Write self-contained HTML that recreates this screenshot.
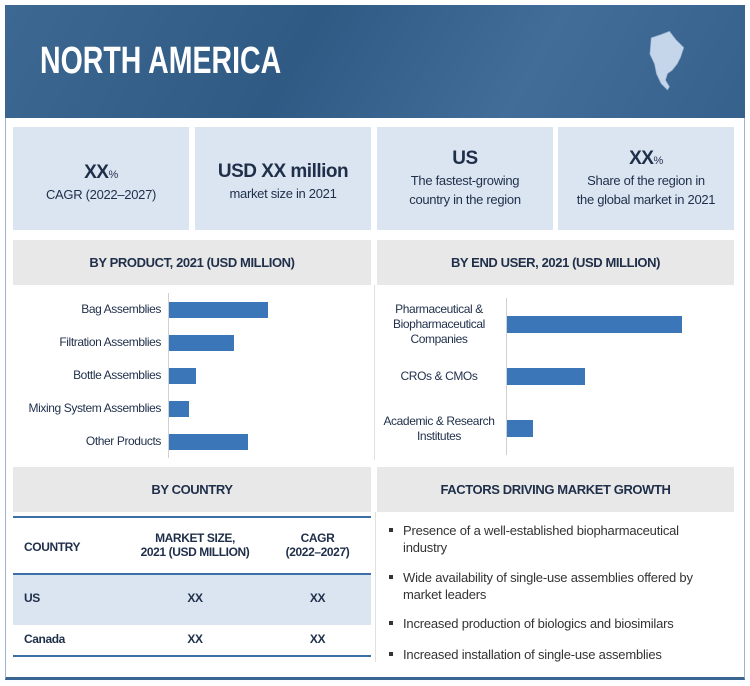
<!DOCTYPE html>
<html><head><meta charset="utf-8"><style>
body{margin:0;width:750px;height:686px;background:#fff;font-family:"Liberation Sans",sans-serif;color:#1f2f4a;position:relative;overflow:hidden}
.abs{position:absolute}
.card{position:absolute;top:127px;height:103px;width:176px;background:#dbe5f1;text-align:center;font-size:13px;line-height:19px;color:#1f2f4a;letter-spacing:-0.3px}
.big{font-size:19px;font-weight:bold;line-height:24px;letter-spacing:-0.5px}
.hdr{position:absolute;background:#e8e8e8;height:45px;text-align:center;line-height:45px;font-size:13px;font-weight:bold;color:#1f2f4a;letter-spacing:-0.4px}
.lbl{position:absolute;text-align:right;font-size:12px;line-height:15px;color:#1f2f4a;white-space:nowrap;letter-spacing:-0.4px}
.tb{position:absolute;font-size:12px;font-weight:bold;text-align:center;white-space:nowrap;letter-spacing:-0.4px}
.bul{position:absolute;left:390px;font-size:13px;line-height:17px;color:#333;width:315px;letter-spacing:-0.2px}
.bul:before{content:"";position:absolute;left:-1px;top:6px;width:4px;height:4px;background:#333}
.bul span{display:block;padding-left:13px}
</style></head><body>
<div class="abs" style="left:5px;top:5px;width:738px;height:671px;border:1px solid #9fb3cc;border-bottom:3px solid #3a6591"></div>
<div class="abs" style="left:5px;top:5px;width:740px;height:113px;background:linear-gradient(120deg,#3d6892 0%,#2f5a84 40%,#416d98 70%,#36618c 100%)"></div>
<div class="abs" style="left:40px;top:40px;font-size:38px;font-weight:bold;color:#fff;transform:scaleX(0.75);transform-origin:left top;white-space:nowrap">NORTH AMERICA</div>
<svg class="abs" style="left:640px;top:28px" width="55" height="75" viewBox="0 0 70 115"><path d="M10,15 L25,10 L38,5 L48,18 L60,30 L55,45 L50,55 L42,65 L35,70 L32,80 L38,90 L35,95 L25,85 L18,70 L15,55 L8,40 Z" fill="#c5d6ea" stroke="#8fa9c8"/></svg>
<div class="card" style="left:13px"><div style="margin-top:34px"><span class="big">XX</span><span style="font-size:11px">%</span></div>CAGR (2022–2027)</div>
<div class="card" style="left:195px"><div class="big" style="margin-top:33px">USD XX million</div>market size in 2021</div>
<div class="card" style="left:377px"><div class="big" style="margin-top:20px">US</div>The fastest-growing<br>country in the region</div>
<div class="card" style="left:558px"><div style="margin-top:20px"><span class="big">XX</span><span style="font-size:11px">%</span></div>Share of the region in<br>the global market in 2021</div>
<div class="hdr" style="left:13px;top:240px;width:358px">BY PRODUCT, 2021 (USD MILLION)</div>
<div class="hdr" style="left:377px;top:240px;width:357px">BY END USER, 2021 (USD MILLION)</div>
<div class="abs" style="left:374px;top:285px;width:1px;height:175px;background:#e0e0e0"></div>
<div id="charts"></div>
<div class="hdr" style="left:13px;top:467px;width:358px">BY COUNTRY</div>
<div class="hdr" style="left:377px;top:467px;width:357px">FACTORS DRIVING MARKET GROWTH</div>
<div class="abs" style="left:13px;top:516px;width:358px;height:2px;background:#3a6fa8"></div>
<div class="tb" style="left:24px;top:540px">COUNTRY</div>
<div class="tb" style="left:135px;top:531px;width:120px">MARKET SIZE,<br>2021 (USD MILLION)</div>
<div class="tb" style="left:270px;top:531px;width:95px">CAGR<br>(2022–2027)</div>
<div class="abs" style="left:13px;top:573px;width:358px;height:2px;background:#3a6fa8"></div>
<div class="abs" style="left:13px;top:575px;width:358px;height:50px;background:#dbe5f1"></div>
<div class="tb" style="left:24px;top:591px">US</div>
<div class="tb" style="left:135px;top:591px;width:120px">XX</div>
<div class="tb" style="left:270px;top:591px;width:95px">XX</div>
<div class="tb" style="left:24px;top:632px">Canada</div>
<div class="tb" style="left:135px;top:632px;width:120px">XX</div>
<div class="tb" style="left:270px;top:632px;width:95px">XX</div>
<div class="abs" style="left:13px;top:655px;width:358px;height:2px;background:#3a6fa8"></div>
<div class="abs" style="left:375px;top:512px;width:1px;height:150px;background:#e0e0e0"></div>
<div class="bul" style="top:522px"><span>Presence of a well-established biopharmaceutical industry</span></div>
<div class="bul" style="top:569px"><span>Wide availability of single-use assemblies offered by market leaders</span></div>
<div class="bul" style="top:615px"><span>Increased production of biologics and biosimilars</span></div>
<div class="bul" style="top:646px"><span>Increased installation of single-use assemblies</span></div>
<script>
const productCats=["Bag Assemblies","Filtration Assemblies","Bottle Assemblies","Mixing System Assemblies","Other Products"];
const productVals=[99,65,27,20,79];
const userCats=["Pharmaceutical &amp;<br>Biopharmaceutical<br>Companies","CROs &amp; CMOs","Academic &amp; Research<br>Institutes"];
const userVals=[175,78,26];
const root=document.getElementById('charts');
function chart(cats,vals,x0,top,bottom,barH,lblW,name,center){
  const step=(bottom-top)/cats.length;
  const xs=v=>v*1.0;
  const ax=document.createElement('div');
  ax.className='abs';ax.style.cssText=`left:${x0-1}px;top:${top}px;width:1px;height:${bottom-top}px;background:#d0d0d0`;
  
  
  root.appendChild(ax);
  cats.forEach((c,i)=>{
    const cy=top+step*(i+0.5);
    const b=document.createElement('div');
    b.className='abs';
    b.style.cssText=`left:${x0}px;top:${cy-barH/2}px;width:${xs(vals[i])}px;height:${barH}px;background:#3a76b8`;
    
    
    root.appendChild(b);
    const l=document.createElement('div');
    l.className='lbl';l.innerHTML=c;
    const lines=c.split('<br>').length;
    l.style.cssText+=`left:${x0-8-lblW}px;width:${lblW}px;top:${cy-lines*7.5}px;${center?'text-align:center':''}`;
    
    
    root.appendChild(l);
  });
}
chart(productCats,productVals,169,293,458,16,155,'product',false);
chart(userCats,userVals,507,298,455,17,120,'end-user',true);
</script>
</body></html>
